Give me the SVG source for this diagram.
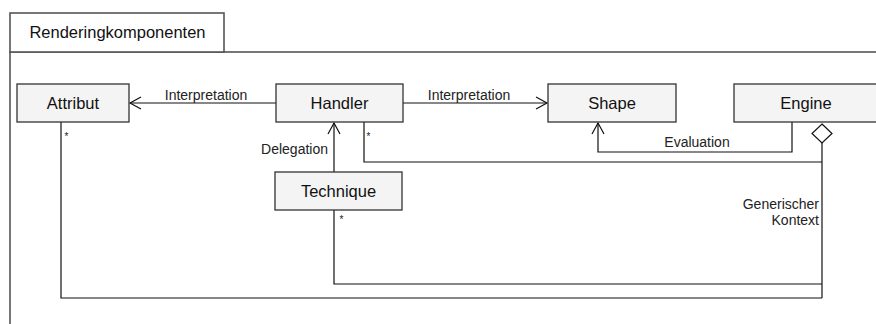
<svg xmlns="http://www.w3.org/2000/svg" width="876" height="324" viewBox="0 0 876 324">
  <style>
    .frame { fill: #ffffff; stroke: #555555; stroke-width: 1.6; }
    .box { fill: #f4f4f4; stroke: #333333; stroke-width: 1.3; }
    .name { font-family: "Liberation Sans", Arial, sans-serif; font-size: 16.5px; fill: #111111; text-anchor: middle; }
    .lbl { font-family: "Liberation Sans", Arial, sans-serif; font-size: 14px; fill: #222222; }
    .mult { font-family: "Liberation Sans", Arial, sans-serif; font-size: 10px; fill: #222222; }
    .edge { fill: none; stroke: #111111; stroke-width: 1.2; }
  </style>
  <defs>
    <marker id="open" markerWidth="14" markerHeight="14" refX="12" refY="7" orient="auto" markerUnits="userSpaceOnUse">
      <path d="M1,1 L12,7 L1,13" fill="none" stroke="#111111" stroke-width="1.2"/>
    </marker>
  </defs>
  <rect width="876" height="324" fill="#ffffff"/>

  <!-- package frame -->
  <g id="package">
    <rect class="frame" x="10" y="52" width="900" height="300"/>
    <rect class="frame" x="10" y="13" width="214" height="39"/>
    <text class="name" x="117.5" y="38">Renderingkomponenten</text>
  </g>

  <!-- connectors -->
  <g id="connectors">
    <line class="edge" x1="276" y1="103" x2="130" y2="103" marker-end="url(#open)"/>
    <text class="lbl" x="206" y="100" text-anchor="middle">Interpretation</text>

    <line class="edge" x1="403" y1="103" x2="547" y2="103" marker-end="url(#open)"/>
    <text class="lbl" x="469" y="100" text-anchor="middle">Interpretation</text>

    <line class="edge" x1="334" y1="172" x2="334" y2="123" marker-end="url(#open)"/>
    <text class="lbl" x="328" y="154" text-anchor="end">Delegation</text>

    <polyline class="edge" points="792,122 792,152 598,152 598,123" marker-end="url(#open)"/>
    <text class="lbl" x="697" y="147" text-anchor="middle">Evaluation</text>

    <polyline class="edge" points="364,122 364,162 822,162"/>
    <text class="mult" x="366.5" y="140">*</text>

    <polyline class="edge" points="334,210 334,284 822,284"/>
    <text class="mult" x="339.5" y="223">*</text>

    <polyline class="edge" points="61,122 61,298 822,298"/>
    <text class="mult" x="64.5" y="140">*</text>

    <line class="edge" x1="822" y1="143" x2="822" y2="298"/>
    <path d="M822,124 L832,133.5 L822,143 L812,133.5 Z" fill="#ffffff" stroke="#111111" stroke-width="1.2"/>
    <text class="lbl" x="819" y="209" text-anchor="end">Generischer</text>
    <text class="lbl" x="819" y="225" text-anchor="end">Kontext</text>
  </g>

  <g id="attribut">
    <rect class="box" x="17" y="84" width="112" height="38"/>
    <text class="name" x="73" y="109">Attribut</text>
  </g>
  <g id="handler">
    <rect class="box" x="276" y="84" width="127" height="38"/>
    <text class="name" x="339.5" y="109">Handler</text>
  </g>
  <g id="shape">
    <rect class="box" x="548" y="84" width="128" height="38"/>
    <text class="name" x="612" y="109">Shape</text>
  </g>
  <g id="engine">
    <rect class="box" x="734" y="84" width="144" height="38"/>
    <text class="name" x="806" y="109">Engine</text>
  </g>
  <g id="technique">
    <rect class="box" x="275" y="172" width="127" height="38"/>
    <text class="name" x="338.5" y="197">Technique</text>
  </g>
</svg>
